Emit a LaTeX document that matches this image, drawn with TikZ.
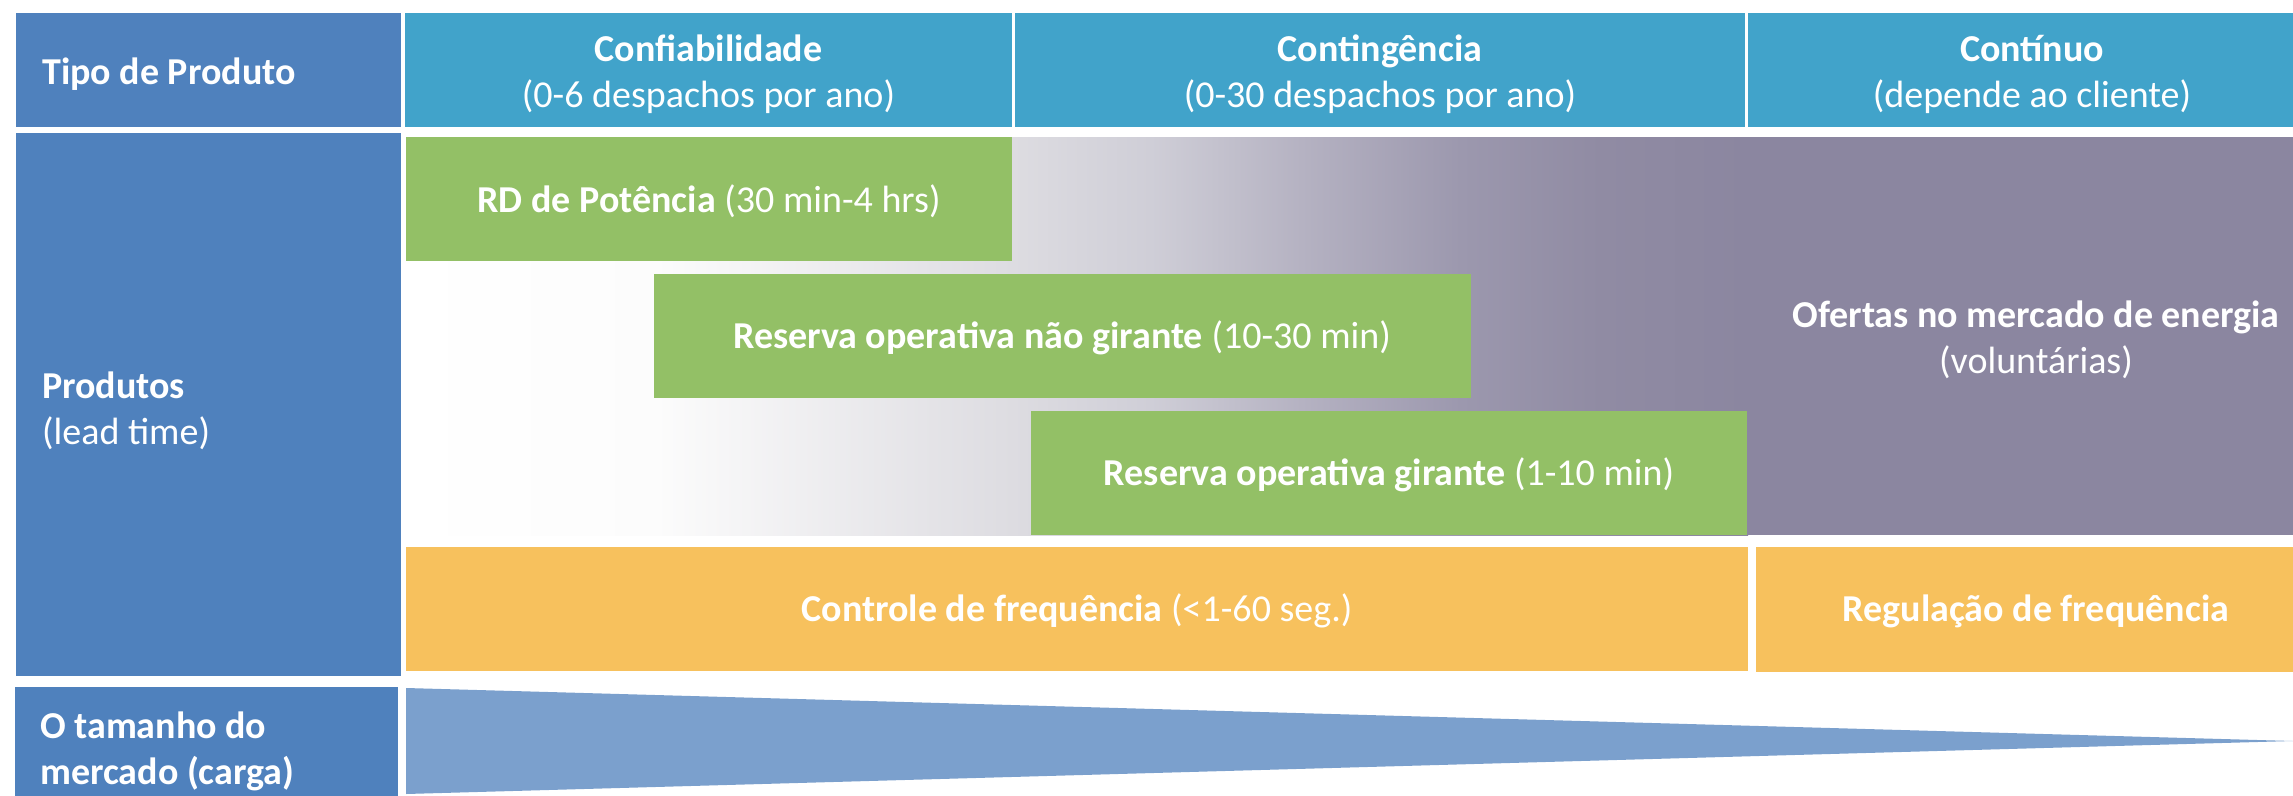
\documentclass[tikz,border=0pt]{standalone}
\usepackage{fontspec}
\setmainfont{Carlito}
\definecolor{leftblue}{RGB}{79,129,189}
\definecolor{hdrcyan}{RGB}{65,163,202}
\definecolor{boxgreen}{RGB}{147,192,102}
\definecolor{boxorange}{RGB}{247,193,93}
\definecolor{mktpurple}{RGB}{139,134,160}
\definecolor{triblue}{RGB}{123,160,205}
\definecolor{ga}{RGB}{252,252,252}
\definecolor{gb}{RGB}{221,220,225}
\definecolor{gc}{RGB}{207,206,215}
\definecolor{gd}{RGB}{181,178,194}
\definecolor{ge}{RGB}{156,152,174}
\definecolor{gf}{RGB}{144,139,163}
\definecolor{gg}{RGB}{139,134,160}
\pgfdeclarehorizontalshading{prodgrad}{100bp}{color(0bp)=(white); color(25bp)=(white); color(34.3bp)=(ga); color(47.6bp)=(gb); color(52.75bp)=(gc); color(58.35bp)=(gd); color(64.3bp)=(ge); color(69.5bp)=(gf); color(75bp)=(gg); color(100bp)=(gg)}
\tikzset{
  txt/.style={text=white, inner sep=0pt, font=\fontsize{38bp}{46bp}\selectfont},
  ctxt/.style={txt, align=center},
  ltxt/.style={txt, align=left, anchor=west},
}
\begin{document}
\begin{tikzpicture}[x=1bp,y=-1bp]
\useasboundingbox (0,0) rectangle (2293,795);
\clip (0,0) rectangle (2293,795);
% header row
\fill[leftblue] (16,13) rectangle (401,127);
\fill[hdrcyan] (405,13) rectangle (1012,127);
\fill[hdrcyan] (1015,13) rectangle (1745,127);
\fill[hdrcyan] (1748,13) rectangle (2316,127);
% left column
\fill[leftblue] (16,133) rectangle (401,676);
\fill[leftblue] (15,687) rectangle (398,811);
% product area
\shade[shading=prodgrad] (406,137) rectangle (1748,535);
\fill[mktpurple] (1747,137) rectangle (2316,535);
\fill[boxgreen] (406,137) rectangle (1012,261);
\fill[boxgreen] (654,274) rectangle (1471,398);
\fill[boxgreen] (1031,411) rectangle (1747,535);
\fill[boxorange] (406,547) rectangle (1748,671);
\fill[boxorange] (1756,547) rectangle (2316,672);
% market size
\fill[triblue] (406,688) -- (406,794) -- (2293,741) -- cycle;
% texts
\node[ltxt] (tipo) at (42,74) {\bfseries Tipo de Produto};
\node[ctxt] (conf) at (708.5,74) {\bfseries Confiabilidade\\(0-6 despachos por ano)};
\node[ctxt] (cont) at (1380,74) {\bfseries Conting\^encia\\(0-30 despachos por ano)};
\node[ctxt] (cotn) at (2032,74) {\bfseries Cont\'inuo\\(depende ao cliente)};
\node[ltxt] (prod) at (42,411) {\bfseries Produtos\\(lead time)};
\node[ltxt] (tam) at (40,751) {\bfseries O tamanho do\\\bfseries mercado (carga)};
\node[ctxt] (rd) at (709,201) {\textbf{RD de Potência} (30 min-4 hrs)};
\node[ctxt] (rong) at (1062,338) {\textbf{Reserva operativa não girante} (10-30 min)};
\node[ctxt] (rog) at (1389,475) {\textbf{Reserva operativa girante} (1-10 min)};
\node[ctxt] (ofe) at (2036,340) {\bfseries Ofertas no mercado de energia\\(voluntárias)};
\node[ctxt] (ctrl) at (1077,611) {\textbf{Controle de frequência} (<1-60 seg.)};
\node[ctxt] (reg) at (2036,611) {\bfseries Regulação de frequência};
\end{tikzpicture}
\end{document}
